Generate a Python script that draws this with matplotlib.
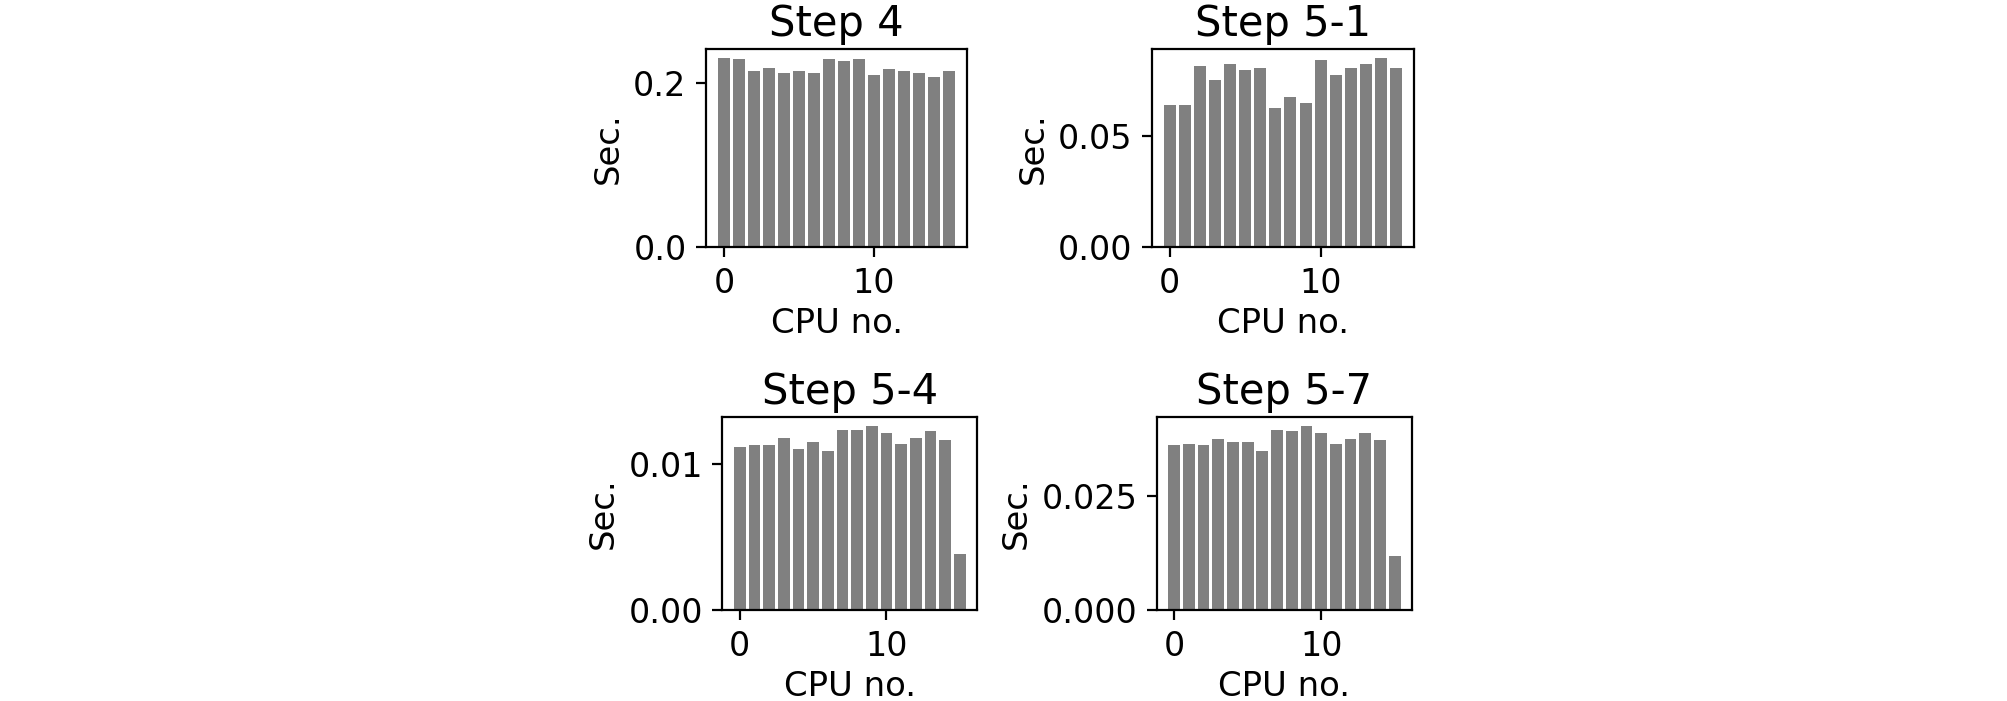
import matplotlib
matplotlib.use("Agg")
import matplotlib.pyplot as plt
import numpy as np

# CPU numbers and per-step timings (seconds)
cpus = np.arange(16)
titles = ["Step 4", "Step 5-1", "Step 5-4", "Step 5-7"]
step4 = [0.2293, 0.2290, 0.2138, 0.2179, 0.2114, 0.2138, 0.2114, 0.2290,
         0.2268, 0.2290, 0.2089, 0.2159, 0.2138, 0.2114, 0.2069, 0.2138]
step5_1 = [0.0644, 0.0644, 0.0819, 0.0754, 0.0828, 0.0802, 0.0811, 0.0628,
           0.0677, 0.0653, 0.0844, 0.0778, 0.0811, 0.0828, 0.0852, 0.0811]
step5_4 = [0.01116, 0.01130, 0.01130, 0.01178, 0.01105, 0.01155, 0.01093, 0.01239,
           0.01239, 0.01264, 0.01216, 0.01141, 0.01178, 0.01228, 0.01166, 0.00383]
step5_7 = [0.03615, 0.03652, 0.03615, 0.03768, 0.03695, 0.03695, 0.03499, 0.03965,
           0.03929, 0.04045, 0.03892, 0.03652, 0.03768, 0.03892, 0.03732, 0.01181]
series = [step4, step5_1, step5_4, step5_7]
yticks = [[0.0, 0.2], [0.00, 0.05], [0.00, 0.01], [0.000, 0.025]]
yfmt = ["%.1f", "%.2f", "%.2f", "%.3f"]

fig = plt.figure(figsize=(10.04, 3.505), dpi=200)

# axes boxes in figure fractions [left, bottom, width, height]
boxes = [
    [0.3516, 0.6472, 0.1300, 0.2829],
    [0.5736, 0.6472, 0.1306, 0.2829],
    [0.3597, 0.1294, 0.1270, 0.2762],
    [0.5760, 0.1294, 0.1273, 0.2762],
]

for box, title, vals, ticks, fmt in zip(boxes, titles, series, yticks, yfmt):
    ax = fig.add_axes(box)
    ax.bar(cpus, vals, color="gray")
    ax.set_title(title, fontsize=15, pad=4.5)
    ax.set_xlabel("CPU no.", fontsize=12.2, labelpad=2.5)
    ax.set_ylabel("Sec.", fontsize=12.2, labelpad=3)
    ax.set_xticks([0, 10])
    ax.set_yticks(ticks)
    ax.set_yticklabels([fmt % t for t in ticks])
    ax.tick_params(labelsize=12)

fig.savefig("out.png", dpi=200)
